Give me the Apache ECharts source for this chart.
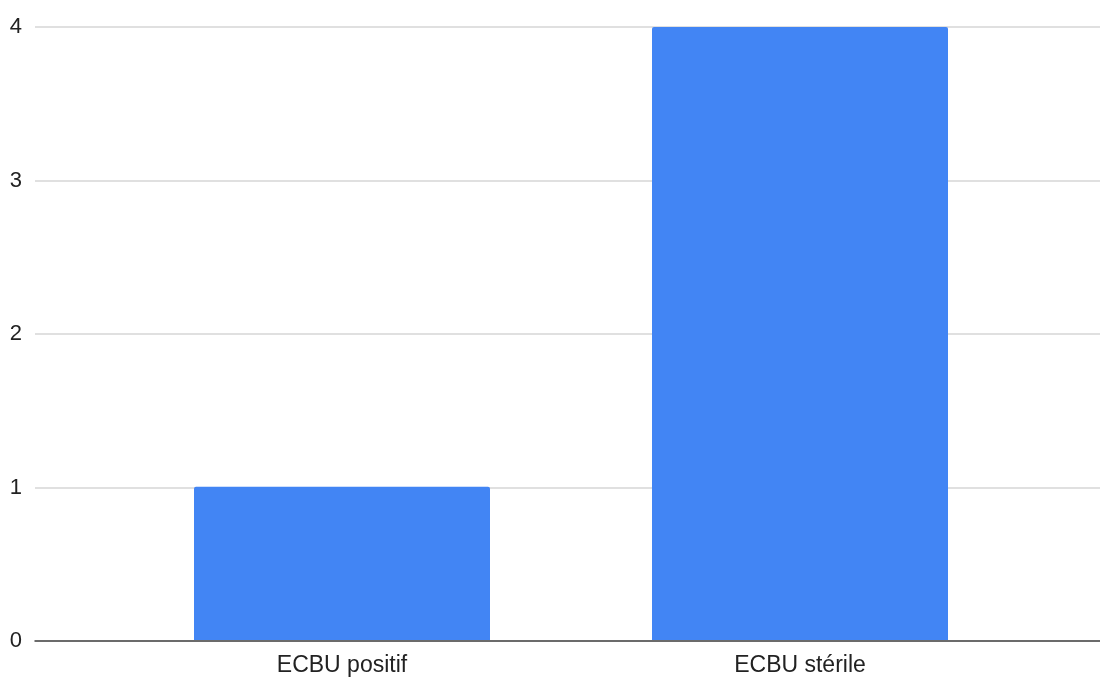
<!DOCTYPE html>
<html>
<head>
<meta charset="utf-8">
<script src="https://cdn.jsdelivr.net/npm/echarts@6/dist/echarts.min.js"></script>
<style>
  html, body { margin: 0; padding: 0; background: #ffffff; }
  #chart { width: 1100px; height: 677px; }
</style>
</head>
<body>
<div id="chart"></div>
<script>
// Urine culture (ECBU) results: count per outcome
const categories = ['ECBU positif', 'ECBU stérile'];
const counts = [1, 4];
const yTicks = [0, 1, 2, 3, 4];

const FONT = '"Liberation Sans", Arial, sans-serif';
const TOP = 27, BOTTOM = 36;

const chart = echarts.init(document.getElementById('chart'));
chart.setOption({
  backgroundColor: '#ffffff',
  animation: false,
  grid: [
    // full-width frame carrying the gridlines and baseline
    { left: 35, right: 0, top: TOP, bottom: BOTTOM, containLabel: false },
    // inner area holding the bars and category labels
    { left: 113, right: 71, top: TOP, bottom: BOTTOM, containLabel: false }
  ],
  xAxis: [
    {
      gridIndex: 0, type: 'category', data: [''],
      axisLine: { show: true, lineStyle: { color: '#444444', width: 1.5 } },
      axisTick: { show: false }, axisLabel: { show: false }, splitLine: { show: false }
    },
    {
      gridIndex: 1, type: 'category', data: categories,
      axisLine: { show: false }, axisTick: { show: false },
      axisLabel: { color: '#222222', fontSize: 23, fontFamily: FONT, margin: 14 }
    }
  ],
  yAxis: [
    {
      gridIndex: 0, type: 'value', min: yTicks[0], max: yTicks[yTicks.length - 1], interval: 1,
      axisLine: { show: false }, axisTick: { show: false },
      axisLabel: { color: '#222222', fontSize: 22, fontFamily: FONT, margin: 13,
        formatter: v => yTicks.includes(v) ? String(v) : '' },
      splitLine: { show: true, lineStyle: { color: '#d6d6d6', width: 1.5 } }
    },
    {
      gridIndex: 1, type: 'value', min: yTicks[0], max: yTicks[yTicks.length - 1], interval: 1,
      axisLine: { show: false }, axisTick: { show: false },
      axisLabel: { show: false }, splitLine: { show: false }
    }
  ],
  series: [
    {
      type: 'bar', xAxisIndex: 1, yAxisIndex: 1,
      data: counts, barWidth: 296,
      itemStyle: { color: '#4285f4', borderRadius: [2, 2, 0, 0] },
      z: 1
    }
  ]
});
</script>
</body>
</html>
